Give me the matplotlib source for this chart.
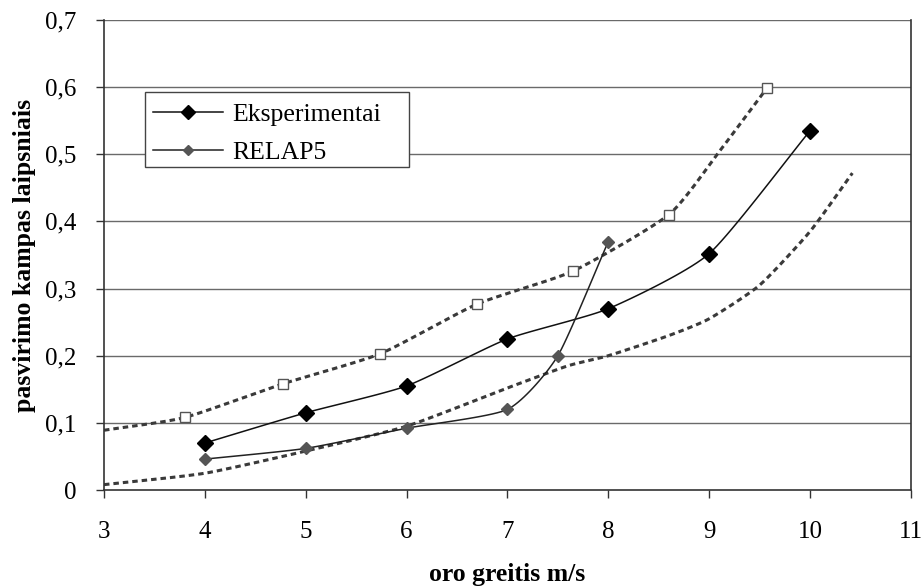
import numpy as np
import matplotlib
matplotlib.use("Agg")
import matplotlib.pyplot as plt
import matplotlib.transforms as mtransforms
from matplotlib.ticker import FuncFormatter, MultipleLocator
from matplotlib.patches import Rectangle

# data
exp_x = [4, 5, 6, 7, 8, 9, 10]
exp_y = [0.070, 0.115, 0.155, 0.225, 0.270, 0.352, 0.535]
rel_x = [4, 5, 6, 7, 7.5, 8]
rel_y = [0.046, 0.062, 0.092, 0.120, 0.200, 0.370]
up_x = [3.0, 3.8, 4.77, 5.74, 6.7, 7.65, 8.6, 9.1, 9.57]
up_y = [0.089, 0.108, 0.158, 0.203, 0.277, 0.326, 0.410, 0.504, 0.598]
up_mark_x = [3.8, 4.77, 5.74, 6.7, 7.65, 8.6, 9.57]
up_mark_y = [0.108, 0.158, 0.203, 0.277, 0.326, 0.410, 0.598]
lo_x = [3.0, 4.0, 5.0, 6.0, 7.0, 7.6, 8.0, 8.6, 9.0, 9.5, 10.0, 10.42]
lo_y = [0.008, 0.025, 0.058, 0.095, 0.152, 0.185, 0.200, 0.230, 0.255, 0.305, 0.385, 0.472]


def smooth(xs, ys, n=20, k=0.6):
    # Hermite smoothing through the given points (like a smoothed line chart)
    P = np.column_stack([xs, ys]).astype(float)
    P = np.vstack([P[0] - (P[1] - P[0]), P, P[-1] + (P[-1] - P[-2])])
    out = []
    t = np.linspace(0, 1, n)
    for i in range(1, len(P) - 2):
        p0, p1, p2, p3 = P[i - 1], P[i], P[i + 1], P[i + 2]
        m1 = (p2 - p0) / 2 * k
        m2 = (p3 - p1) / 2 * k
        h00 = 2 * t**3 - 3 * t**2 + 1
        h10 = t**3 - 2 * t**2 + t
        h01 = -2 * t**3 + 3 * t**2
        h11 = t**3 - t**2
        seg = (np.outer(h00, p1) + np.outer(h10, m1) + np.outer(h01, p2) + np.outer(h11, m2))
        out.append(seg if i == 1 else seg[1:])
    S = np.vstack(out)
    return S[:, 0], S[:, 1]


plt.rcParams['font.family'] = ['Liberation Serif', 'DejaVu Serif']

fig = plt.figure(figsize=(9.21, 5.86), dpi=100)
ax = fig.add_axes([0.1129, 0.1638, 0.8761, 0.8021])

for v in np.arange(0.1, 0.71, 0.1):
    ax.axhline(v, color='#6a6a6a', lw=1.0, zorder=0)

dash_col = '#3a3a3a'
sx, sy = smooth(up_x, up_y)
ax.plot(sx, sy, color=dash_col, lw=2.2, dashes=(1.8, 1.3), zorder=2)
ax.plot(up_mark_x, up_mark_y, ls='none', marker='s', ms=7, mfc='white', mec='#555555', mew=1.0, zorder=3)
sx, sy = smooth(lo_x, lo_y)
ax.plot(sx, sy, color=dash_col, lw=2.2, dashes=(1.8, 1.3), zorder=2)

sx, sy = smooth(exp_x, exp_y)
ax.plot(sx, sy, color='#111111', lw=1.1, zorder=4)
ax.plot(exp_x, exp_y, ls='none', marker='D', ms=8, mfc='black', mec='black', zorder=5)
sx, sy = smooth(rel_x, rel_y)
ax.plot(sx, sy, color='#222222', lw=1.1, zorder=4)
ax.plot(rel_x, rel_y, ls='none', marker='D', ms=6.5, mfc='#555555', mec='#555555', zorder=5)

# legend box (drawn separately to keep the wide right padding)
ax.add_patch(Rectangle((145 / 921, 1 - 167 / 586), 264 / 921, 75 / 586,
                       transform=fig.transFigure, facecolor='white',
                       edgecolor='#444444', lw=1.0, zorder=6, clip_on=False))
l1, = ax.plot([], [], color='#111111', lw=1.1, marker='D', ms=7, mfc='black', mec='black')
l2, = ax.plot([], [], color='#222222', lw=1.1, marker='D', ms=5.5, mfc='#555555', mec='#555555')
leg = ax.legend([l1, l2], ['Eksperimentai', 'RELAP5'], loc='upper left',
                bbox_to_anchor=(0.0508, 0.8404), fontsize=18.5, frameon=False,
                borderpad=0.3, handlelength=2.75,
                labelspacing=0.6, handletextpad=0.35, borderaxespad=0)
leg.set_zorder(10)

ax.set_xlim(3, 11)
ax.set_ylim(0, 0.7)
ax.xaxis.set_major_locator(MultipleLocator(1))
ax.yaxis.set_major_locator(MultipleLocator(0.1))
ax.yaxis.set_major_formatter(FuncFormatter(lambda v, p: ('%.1f' % v).replace('.', ',') if abs(v) > 1e-9 else '0'))
ax.tick_params(axis='both', labelsize=18, color='#333333', length=6, width=1.0, direction='out')
ax.tick_params(axis='x', pad=16)
ax.tick_params(axis='y', pad=14)
for s in ['left', 'bottom', 'right']:
    ax.spines[s].set_color('#333333')
    ax.spines[s].set_linewidth(1.2)
ax.spines['top'].set_visible(False)

ax.set_xlabel('oro greitis m/s', fontsize=18.5, fontweight='bold', labelpad=15)
ax.set_ylabel('pasvirimo kampas laipsniais', fontsize=18.5, fontweight='bold', labelpad=6)

fig.canvas.draw()
last = ax.get_xticklabels()[-1]
last.set_transform(last.get_transform() + mtransforms.ScaledTranslation(-3 / 100, 0, fig.dpi_scale_trans))

fig.savefig('out.png', dpi=100)
